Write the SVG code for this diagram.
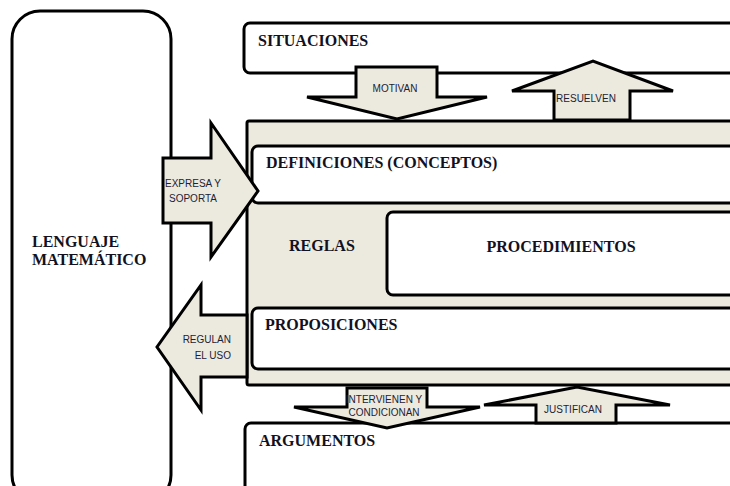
<svg xmlns="http://www.w3.org/2000/svg" width="730" height="486" viewBox="0 0 730 486">
<style>
.box{fill:#fff;stroke:#000;stroke-width:3}
.main{fill:#ECE9DF;stroke:#000;stroke-width:3}
.arrow{fill:#ECE9DF;stroke:#000;stroke-width:3;stroke-linejoin:miter}
.title{font-family:"Liberation Serif","Times New Roman",serif;font-weight:bold;font-size:16px;fill:#111122}
.lbl{font-family:"Liberation Sans",Arial,sans-serif;font-size:10px;fill:#1c2233}
</style>
<rect width="730" height="486" fill="#fff"/>
<g id="lenguaje">
<rect class="box" x="12" y="11" width="159" height="492" rx="28"/>
<text class="title" x="32" y="247">LENGUAJE</text>
<text class="title" x="32" y="265">MATEMÁTICO</text>
</g>
<g id="situaciones">
<rect class="box" x="244" y="23" width="500" height="50" rx="6"/>
<text class="title" x="258" y="46">SITUACIONES</text>
</g>
<g id="bloque">
<rect class="main" x="247" y="121" width="500" height="264" rx="2"/>
</g>
<g id="definiciones">
<rect class="box" x="252" y="146" width="500" height="57" rx="6"/>
<text class="title" x="266" y="168">DEFINICIONES (CONCEPTOS)</text>
</g>
<g id="reglas">
<text class="title" x="289" y="251">REGLAS</text>
</g>
<g id="procedimientos">
<rect class="box" x="387" y="212" width="400" height="83" rx="6"/>
<text class="title" x="561" y="252" text-anchor="middle">PROCEDIMIENTOS</text>
</g>
<g id="proposiciones">
<rect class="box" x="252" y="308" width="500" height="61" rx="6"/>
<text class="title" x="265" y="330">PROPOSICIONES</text>
</g>
<g id="argumentos">
<rect class="box" x="245" y="423" width="500" height="100" rx="6"/>
<text class="title" x="259" y="446">ARGUMENTOS</text>
</g>
<g id="connectors">
<g id="motivan">
<polygon class="arrow" points="356,67 437,67 437,97 487,97 397,119 307,97 356,97"/>
<text class="lbl" x="395" y="92" text-anchor="middle" font-size="10.6">MOTIVAN</text>
</g>
<g id="resuelven">
<polygon class="arrow" points="554,120 554,91 512,91 593,61 673,91 630,91 630,120"/>
<text class="lbl" x="586" y="102" text-anchor="middle">RESUELVEN</text>
</g>
<g id="expresa">
<polygon class="arrow" points="163,158 211,158 211,123 258,191 211,257 211,223 163,223"/>
<text class="lbl" x="193" y="187" text-anchor="middle" font-size="9.7">EXPRESA Y</text>
<text class="lbl" x="193" y="202" text-anchor="middle" font-size="9.7">SOPORTA</text>
</g>
<g id="regulan">
<polygon class="arrow" points="247,315 201,315 201,285 157,347 201,410 201,377 247,377"/>
<text class="lbl" x="231" y="343" text-anchor="end">REGULAN</text>
<text class="lbl" x="231" y="359" text-anchor="end">EL USO</text>
</g>
<g id="justifican">
<polygon class="arrow" points="536,423 536,405 484,405 577,387 670,405 616,405 616,423"/>
<text class="lbl" x="573" y="413" text-anchor="middle" font-size="10.4">JUSTIFICAN</text>
</g>
<g id="intervienen">
<polygon class="arrow" points="347,388 427,388 427,407 480,407 387,428 294,407 347,407"/>
<text class="lbl" x="384" y="403" text-anchor="middle" font-size="9.1">INTERVIENEN Y</text>
<text class="lbl" x="384" y="416" text-anchor="middle" font-size="9.1">CONDICIONAN</text>
</g>
</g>
</svg>
